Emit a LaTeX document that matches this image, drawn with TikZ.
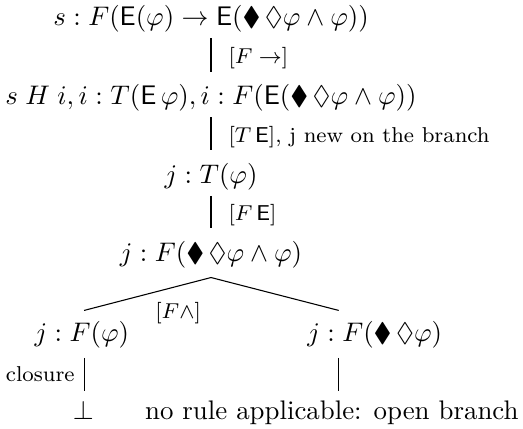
\documentclass[tikz,border=0pt]{standalone}
\usepackage{amssymb}
\tikzset{
  formula/.style={inner sep=3.33pt},
  stem/.style={draw=black, line width=0.4pt},
  rulestem/.style={stem, shorten <=-1.4pt, shorten >=1.2pt},
  rulelabel/.style={font=\footnotesize, right=3pt},
  sidelabel/.style={font=\footnotesize, left=0pt},
}

\begin{document}
\begin{tikzpicture}
  \useasboundingbox (-2.76,0) rectangle (4.08,-5.61);
  % linear part of the tableau
  \node[formula] (n1) at (0,-0.25) {$s : F(\mathsf{E}(\varphi) \to \mathsf{E}(\blacklozenge\,\lozenge\varphi \wedge \varphi))$};
  \node[formula] (n2) at (0,-1.28) {$s \mathrel{H} i, i : T(\mathsf{E}\,\varphi), i : F(\mathsf{E}(\blacklozenge\,\lozenge\varphi \wedge \varphi))$};
  \node[formula] (n3) at (0,-2.31) {$j : T(\varphi)$};
  \node[formula] (n4) at (0,-3.33) {$j : F(\blacklozenge\,\lozenge\varphi \wedge \varphi)$};
  \draw[rulestem] (n1) -- node[rulelabel] {$[F \to]$} (n2);
  \draw[rulestem] (n2) -- node[rulelabel] {$[T\,\mathsf{E}]$, j new on the branch} (n3);
  \draw[rulestem] (n3) -- node[rulelabel] {$[F\,\mathsf{E}]$} (n4);
  % branching
  \coordinate (l) at (-1.66,-4.06);
  \coordinate (r) at (1.67,-4.06);
  \node[formula] (fl) at (-1.69,-4.38) {$j : F(\varphi)$};
  \node[formula] (fr) at (2.14,-4.38) {$j : F(\blacklozenge\,\lozenge\varphi)$};
  \draw[stem] (l) -- (n4.south) -- (r);
  \node[font=\footnotesize] (andrule) at (-0.43,-4.09) {$[F\wedge]$};
  % ends of the branches
  \node[formula, anchor=base] (falsum) at (-1.67,-5.48) {$\bot$};
  \node[formula, anchor=base] (open) at (1.58,-5.48) {no rule applicable: open branch};
  \draw[stem] (fl.south -| l) -- node[sidelabel] {closure} (falsum.north -| l);
  \draw[stem] (fr.south -| r) -- (open.north -| r);
\end{tikzpicture}
\end{document}
